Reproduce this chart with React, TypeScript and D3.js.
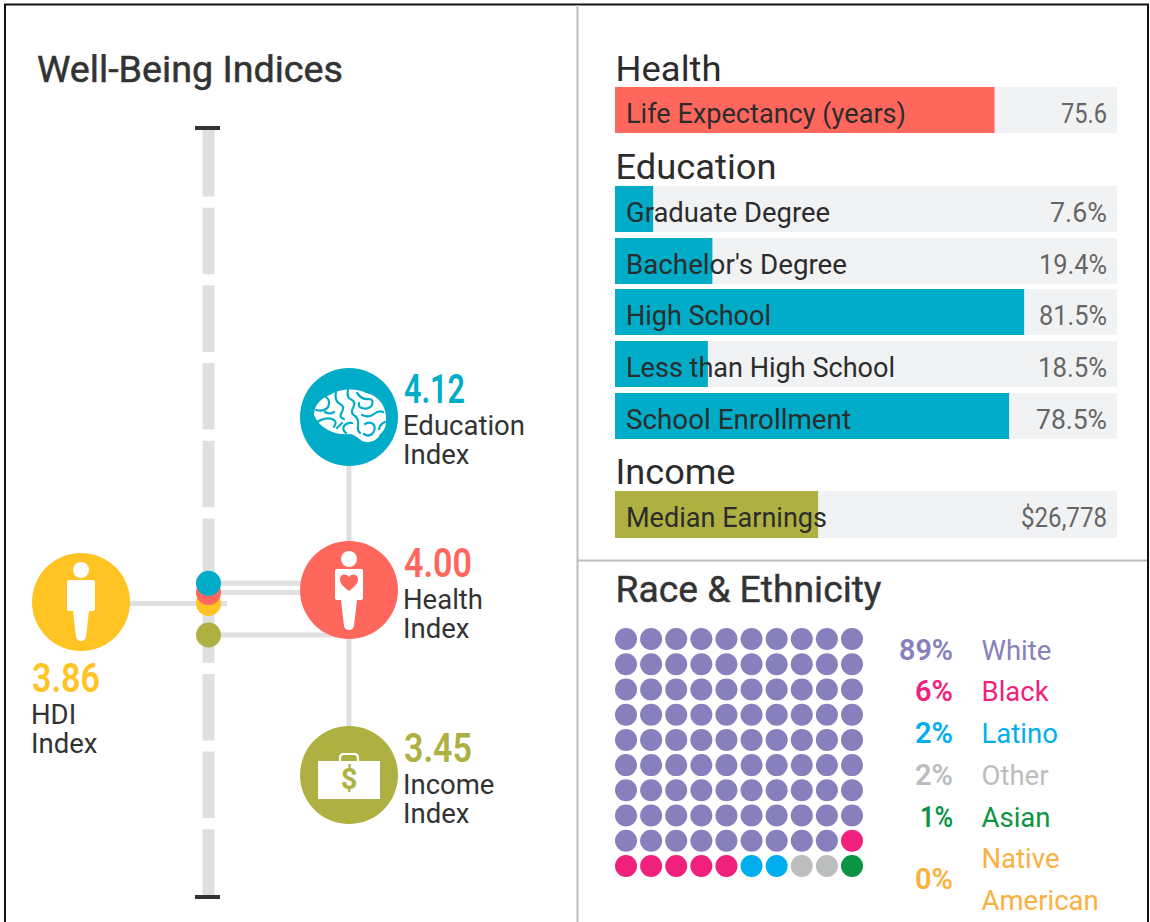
import React from 'react';
import * as d3 from 'd3';

const FONT = "Roboto, sans-serif";
const TEAL = '#00acc8';
const CORAL = '#ff675d';
const YELLOW = '#ffc423';
const OLIVE = '#aeb141';

const healthLabels = ['Life Expectancy (years)'];
const healthValues = [75.6];
const educationLabels = ["Graduate Degree", "Bachelor's Degree", 'High School', 'Less than High School', 'School Enrollment'];
const educationValues = [7.6, 19.4, 81.5, 18.5, 78.5];
const earningsValue = 26778;

const indexNames = ['HDI', 'Education', 'Health', 'Income'];
const indexValues = [3.86, 4.12, 4.0, 3.45];
const indexColors = [YELLOW, TEAL, CORAL, OLIVE];

const raceLabels = ['White', 'Black', 'Latino', 'Other', 'Asian', 'Native American'];
const racePercents = [89, 6, 2, 2, 1, 0];
const raceColors = ['#8780bc', '#f0217d', '#00aeef', '#bbbdbf', '#0b9444', '#fbb040'];
const legendBaselines = [660, 701, 743, 785, 827, 889];

// the original uses a narrow DIN-like face, so text is fitted to measured widths
const educationLabelWidths = [204, 221, 145, 269, 225];
const educationValueWidths = [57, 68, 68, 69, 71];
const indexValueWidths = [68, 61, 68, 68];
const racePercentWidths = [54, 38, 38, 38, 33, 38];

const y = d3.scaleLinear().domain([0, 10]).range([901, 130]);
const pct = d3.scaleLinear().domain([0, 100]).range([0, 502]);
const earn = d3.scaleLinear().domain([0, 66200]).range([0, 502]);
const col = d3.scalePoint<number>().domain(d3.range(10)).range([626, 852]);
const row = d3.scalePoint<number>().domain(d3.range(10)).range([639, 866]);
const money = d3.format('$,');

const waffle = raceColors.flatMap((c, i) => d3.range(racePercents[i]).map(() => c));

function Fit({ w, children, ...rest }: any) {
  return <text textLength={w} lengthAdjust="spacingAndGlyphs" {...rest}>{children}</text>;
}

function Bar({ label, labelW, width, text, textW, color, top, h = 46 }: any) {
  return (
    <g>
      <rect x={615} y={top} width={502} height={h} fill="#f1f2f4" />
      <rect x={615} y={top} width={width} height={h} fill={color} />
      <Fit x={626} y={top + 36} w={labelW} fontSize={28} fill="#2c2c2c">{label}</Fit>
      <Fit x={1107 - textW} y={top + 36} w={textW} fontSize={28} fill="#666">{text}</Fit>
    </g>
  );
}

function Person({ cx, cy, heart }: any) {
  return (
    <g transform={`translate(${cx},${cy})`} fill="#fff">
      <circle cx={0} cy={-30} r={8} />
      <path d="M-12,-20 Q-14,-20 -14,-18 L-14,9 Q-14,11 -11,11 L-8,11 L-5,37 Q-4,41 0,41 Q4,41 5,37 L8,11 L11,11 Q14,11 14,9 L14,-18 Q14,-20 12,-20 Z" />
      {heart && <path d="M0,2 C-5,-2 -9,-5 -9,-10 C-9,-15 -3,-16 0,-12 C3,-16 9,-15 9,-10 C9,-5 5,-2 0,2 Z" fill={CORAL} />}
    </g>
  );
}

function Brain({ cx, cy }: any) {
  const folds = [
    'M-34,-6 Q-26,-4 -22,-9 Q-19,-15 -24,-19',
    'M-14,-25 Q-16,-15 -10,-12 Q-5,-10 -8,-4 Q-12,1 -6,3',
    'M-33,6 Q-24,1 -18,3 Q-12,5 -16,11',
    'M-25,-4 Q-20,-1 -16,-4',
    'M-2,-26 Q-4,-18 2,-16 Q6,-14 3,-8 Q0,-3 5,0 Q9,3 8,10 Q7,14 10,17',
    'M7,-23 Q12,-16 19,-17 Q24,-17 22,-11 Q19,-6 12,-8 Q8,-9 9,-13',
    'M12,-1 Q19,2 24,-2 Q29,-6 33,-4',
    'M2,7 Q-3,6 -6,10 Q-8,14 -4,17',
    'M15,8 Q21,5 24,9 Q26,14 22,18 Q18,21 14,18',
    'M35,6 Q30,8 29,13',
    'M-13,12 Q-10,9 -8,7',
  ];
  return (
    <g transform={`translate(${cx},${cy})`}>
      <path fill="#fff" d="M-36,-1 C-36,-12 -27,-19 -20,-21 C-10,-28 8,-28 16,-23 C30,-20 37,-8 36,5 C36,12 33,16 30,18 C28,25 18,28 12,25 C8,22 4,18 0,18 C-12,20 -30,14 -36,-1 Z" />
      {folds.map((d, i) => <path key={i} d={d} fill="none" stroke={TEAL} strokeWidth={2.2} strokeLinecap="round" />)}
    </g>
  );
}

function Case({ cx, cy }: any) {
  return (
    <g transform={`translate(${cx},${cy})`}>
      <path d="M-9,-14 L-9,-19 Q-9,-23 -5,-23 L5,-23 Q9,-23 9,-19 L9,-14" fill="none" stroke="#fff" strokeWidth={2.2} />
      <rect x={-31} y={-16} width={62} height={38} fill="#fff" />
      <text x={0} y={12} textAnchor="middle" fontSize={29} fontWeight={700} fill={OLIVE}>$</text>
    </g>
  );
}

function IndexLabel({ x, top, value, name, color, w }: any) {
  return (
    <g>
      <Fit x={x} y={top} w={w} fontSize={40} fontWeight={600} fill={color}>{value.toFixed(2)}</Fit>
      <text x={x - 1} y={top + 32} fontSize={27.5} fill="#333">{name}</text>
      <text x={x - 1} y={top + 61} fontSize={27.5} fill="#333">Index</text>
    </g>
  );
}

export default function App() {
  const lineColor = '#e0e0e0';
  return (
    <svg width={1150} height={922} style={{ position: 'absolute', left: 0, top: 0 }} fontFamily={FONT}>
      <rect width={1150} height={922} fill="#fff" />
      <path d="M5,922 V4.5 H1148 V922" fill="none" stroke="#111" strokeWidth={2} />
      <path d="M577.5,5 V922 M577,560.5 H1147" fill="none" stroke="#bdbdbd" strokeWidth={2} />

      <Fit x={37} y={82} w={306} fontSize={36} stroke="#333" strokeWidth={0.5} fill="#333">Well-Being Indices</Fit>

      <line x1={208.5} x2={208.5} y1={130} y2={897} stroke={lineColor} strokeWidth={12} strokeDasharray="66.5 11.2" />
      <rect x={195} y={126} width={25} height={4} fill="#333" />
      <rect x={195} y={895} width={25} height={4} fill="#333" />

      <line x1={349} x2={349} y1={460} y2={730} stroke={lineColor} strokeWidth={5} />
      <line x1={125} x2={227} y1={y(indexValues[0])} y2={y(indexValues[0])} stroke={lineColor} strokeWidth={5} />
      <line x1={208} x2={310} y1={y(indexValues[1])} y2={y(indexValues[1])} stroke={lineColor} strokeWidth={5} />
      <line x1={208} x2={310} y1={y(indexValues[2])} y2={y(indexValues[2])} stroke={lineColor} strokeWidth={5} />
      <line x1={208} x2={349} y1={y(indexValues[3])} y2={y(indexValues[3])} stroke={lineColor} strokeWidth={5} />
      {[0, 2, 1, 3].map(i => (
        <circle key={indexNames[i]} cx={208.5} cy={y(indexValues[i])} r={12.5} fill={indexColors[i]} />
      ))}

      <circle cx={81} cy={602} r={49} fill={YELLOW} />
      <Person cx={81} cy={600} />
      <circle cx={349} cy={417} r={49} fill={TEAL} />
      <Brain cx={350} cy={416} />
      <circle cx={349} cy={590} r={49} fill={CORAL} />
      <Person cx={349} cy={589} heart />
      <circle cx={349} cy={775} r={49} fill={OLIVE} />
      <Case cx={349} cy={777} />

      <IndexLabel x={32} top={692} value={indexValues[0]} name={indexNames[0]} color={YELLOW} w={indexValueWidths[0]} />
      <IndexLabel x={404} top={403} value={indexValues[1]} name={indexNames[1]} color={TEAL} w={indexValueWidths[1]} />
      <IndexLabel x={404} top={577} value={indexValues[2]} name={indexNames[2]} color={CORAL} w={indexValueWidths[2]} />
      <IndexLabel x={404} top={762} value={indexValues[3]} name={indexNames[3]} color={OLIVE} w={indexValueWidths[3]} />

      <Fit x={615.5} y={81} w={106} fontSize={35} fill="#2c2c2c">Health</Fit>
      <Bar label={healthLabels[0]} labelW={280} width={pct(healthValues[0])} text={healthValues[0].toFixed(1)} textW={46} color={CORAL} top={87} />

      <Fit x={615.5} y={179} w={161} fontSize={35} fill="#2c2c2c">Education</Fit>
      {educationLabels.map((l, i) => (
        <Bar key={l} label={l} labelW={educationLabelWidths[i]} width={pct(educationValues[i])} text={educationValues[i].toFixed(1) + '%'} textW={educationValueWidths[i]} color={TEAL} top={[186, 238, 289, 341, 393][i]} />
      ))}

      <Fit x={615.5} y={484} w={120} fontSize={35} fill="#2c2c2c">Income</Fit>
      <Bar label="Median Earnings" labelW={201} width={earn(earningsValue)} text={money(earningsValue)} textW={86} color={OLIVE} top={491} h={47} />

      <Fit x={615.5} y={602} w={266} fontSize={36} stroke="#333" strokeWidth={0.4} fill="#333">Race &amp; Ethnicity</Fit>

      {waffle.map((c, i) => (
        <circle key={i} cx={col(i % 10)} cy={row(Math.floor(i / 10))} r={11} fill={c} />
      ))}

      {raceLabels.map((l, i) => (
        <g key={l}>
          <Fit x={953 - racePercentWidths[i]} y={legendBaselines[i]} w={racePercentWidths[i]} fontSize={30} fontWeight={600} fill={raceColors[i]}>{racePercents[i]}%</Fit>
          {i < 5
            ? <text x={981.5} y={legendBaselines[i]} fontSize={27.5} fill={raceColors[i]}>{l}</text>
            : l.split(' ').map((w, j) => (
                <text key={w} x={981.5} y={867.5 + j * 42} fontSize={27.5} fill={raceColors[i]}>{w}</text>
              ))}
        </g>
      ))}
    </svg>
  );
}
